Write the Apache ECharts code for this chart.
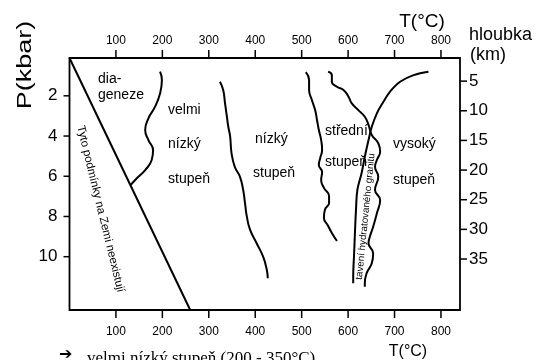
<!DOCTYPE html>
<html><head><meta charset="utf-8">
<script src="https://cdn.jsdelivr.net/npm/echarts@6/dist/echarts.min.js"></script>
<style>html,body{margin:0;padding:0;background:#fff}#c{width:540px;height:360px}</style>
</head><body><div id="c"></div>
<script>
// Tick values
var tempTicks = [100, 200, 300, 400, 500, 600, 700, 800];
var pressureTicks = [2, 4, 6, 8, 10];
var depthTicks = [5, 10, 15, 20, 25, 30, 35];

// Boundaries as [T (°C), P (kbar)]
var noEarthLine = [[0, 0.12], [260, 12.65]];
var diagenesisBoundary = [[195,0.8],[199,1.22],[195,1.88],[184,2.55],[170,3.12],[163,3.7],[170,4.2],[180,4.7],[177,5.19],[163,5.69],[145,6.1],[132,6.43]];
var veryLowBoundary = [[324,1.3],[331,1.71],[335,2.38],[339,3.04],[342,3.54],[346,4.03],[349,4.86],[356,5.53],[367,6.02],[374,6.68],[378,7.34],[382,8.01],[389,8.67],[403,9.33],[417,10.0],[425,10.66],[427,11.07]];
var lowBoundary = [[509,0.82],[516,1.22],[516,1.71],[522,2.21],[529,2.71],[533,3.2],[537,3.7],[542,4.2],[544,4.7],[540,5.09],[537,5.44],[544,5.79],[542,6.18],[548,6.58],[559,6.98],[559,7.33],[550,7.67],[548,8.07],[557,8.47],[565,8.82],[576,9.22]];
var mediumBoundary = [[557,0.8],[565,0.97],[565,1.3],[576,1.55],[590,1.71],[601,2.05],[608,2.38],[622,2.71],[636,3.04],[644,3.45],[651,3.95],[665,4.36],[669,4.78],[662,5.19],[658,5.53],[665,6.02],[658,6.68],[669,7.18],[662,7.84],[654,8.51],[647,9.0],[644,9.33],[654,9.83],[651,10.33],[640,10.82],[636,11.32],[636,11.49]];
var graniteSolidus = [[773,0.8],[741,0.97],[712,1.3],[690,1.8],[676,2.3],[662,2.87],[651,3.54],[644,4.2],[636,5.03],[629,5.85],[620,6.68],[617,7.67],[615,8.67],[613,9.83],[611,10.99],[611,11.32]];

var tRange = [0.01, 841], pRange = [0.12, 12.65], dRange = [1.1, 43.6];

var chart = echarts.init(document.getElementById('c'));
var F = 'Liberation Sans, Arial, sans-serif';
function lineSeries(data, smooth){
  return {type:'line', data:data, showSymbol:false, smooth:smooth, xAxisIndex:0, yAxisIndex:0,
    lineStyle:{color:'#000', width:2}, silent:true};
}
function txt(text, x, y, size, opts){
  opts = opts || {};
  return {type:'text', x:x, y:y, rotation:opts.rot||0, scaleX:opts.sx||1, scaleY:opts.sy||1, z:100,
    style:{text:text, x:0, y:0, fill:'#000', font:(opts.weight||'normal')+' '+size+'px '+(opts.family||F),
    align:opts.align||'left', verticalAlign:opts.va||'middle'}};
}
function labels(vals, size, margin){ return {color:'#000', fontSize:size, fontFamily:F, margin:margin, customValues:vals}; }
function ax(extra){ return Object.assign({type:'value', axisLine:{show:false, onZero:false}, axisTick:{show:false}, splitLine:{show:false}}, extra); }
chart.setOption({
  animation:false,
  grid:{left:69.5, top:58, right:80, bottom:50, containLabel:false},
  xAxis:[
    ax({position:'bottom', min:tRange[0], max:tRange[1], axisLabel:labels(tempTicks, 12, 16)}),
    ax({position:'top', min:tRange[0], max:tRange[1], axisLabel:labels(tempTicks, 12, 11)})
  ],
  yAxis:[
    ax({position:'left', inverse:true, min:pRange[0], max:pRange[1], axisLabel:labels(pressureTicks, 17, 12)}),
    ax({position:'right', inverse:true, min:dRange[0], max:dRange[1], axisLabel:labels(depthTicks, 17, 9)})
  ],
  series:[
    lineSeries(noEarthLine, false),
    lineSeries(diagenesisBoundary, 0.5),
    lineSeries(veryLowBoundary, 0.5),
    lineSeries(lowBoundary, 0.5),
    lineSeries(mediumBoundary, 0.5),
    lineSeries(graniteSolidus, 0.4)
  ]
});

// Frame and ticks positioned through the chart's own axis scales
function px(v){ return chart.convertToPixel({xAxisIndex:0}, v); }
function py(v){ return chart.convertToPixel({yAxisIndex:0}, v); }
function pd(v){ return chart.convertToPixel({yAxisIndex:1}, v); }
var xL = px(tRange[0]), xR = px(tRange[1]), yT = py(pRange[0]), yB = py(pRange[1]);
var stroke = {stroke:'#000', lineWidth:1.5};
function seg(x1, y1, x2, y2, w){ return {type:'line', z:100, shape:{x1:x1, y1:y1, x2:x2, y2:y2}, style:{stroke:'#000', lineWidth:w||1.5}}; }
var g = [{type:'rect', z:100, shape:{x:xL, y:yT, width:xR - xL, height:yB - yT}, style:{fill:null, stroke:'#000', lineWidth:1.8}}];
tempTicks.forEach(function(v){ var x = px(v); g.push(seg(x, yB, x, yB + 8)); g.push(seg(x, yT, x, yT - 8)); });
pressureTicks.forEach(function(v){ var y = py(v); g.push(seg(xL, y, xL - 6, y)); });
depthTicks.forEach(function(v){ var y = pd(v); g.push(seg(xR, y, xR + 7, y)); });

g = g.concat([
  txt('P(kbar)', 25, 65, 20, {align:'center', rot:Math.PI/2, sx:1.35}),
  txt('T(°C)', 422, 22, 19, {align:'center'}),
  txt('hloubka', 469, 35, 18),
  txt('(km)', 470, 55, 18),
  txt('T(°C)', 408, 352, 16, {align:'center'}),
  txt('➔', 59, 355, 16, {family:'DejaVu Sans', weight:'bold'}),
  txt('velmi nízký stupeň (200 - 350°C)', 87, 350, 17, {va:'top', family:'Liberation Serif, Times New Roman, serif'}),
  txt('dia-', 98, 79, 14),
  txt('geneze', 98, 95, 14),
  txt('velmi', 168, 110, 14),
  txt('nízký', 168, 144, 14),
  txt('stupeň', 168, 179, 14),
  txt('nízký', 255, 139, 14),
  txt('stupeň', 253, 173, 14),
  txt('střední', 325, 131, 14),
  txt('stupeň', 325, 162, 14),
  txt('vysoký', 393, 144, 14),
  txt('stupeň', 393, 180, 14),
  txt('Tyto podmínky na Zemi neexistují', 100.5, 209, 11.5, {align:'center', rot:-1.332}),
  txt('tavení hydratovaného granitu', 365.5, 216.5, 9.8, {align:'center', rot:1.47})
]);
chart.setOption({graphic:g});
</script></body></html>
